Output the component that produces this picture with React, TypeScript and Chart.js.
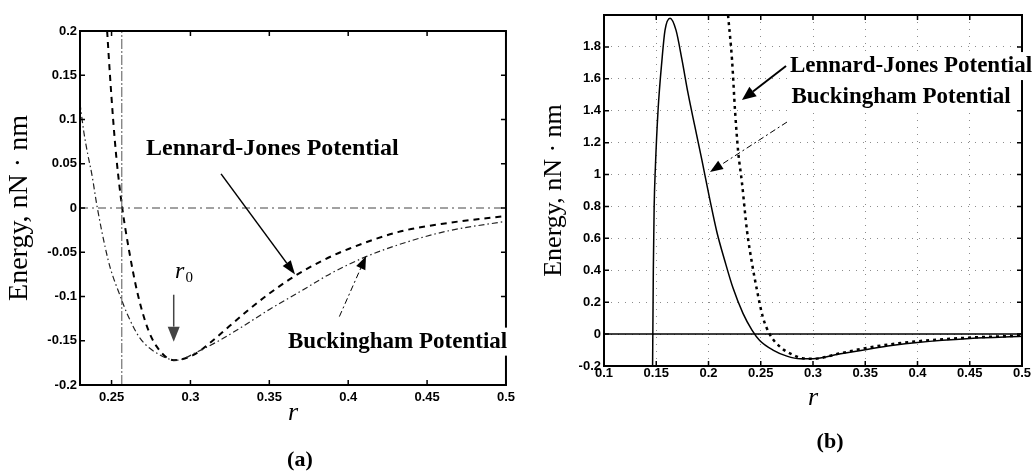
import React, { useEffect, useRef } from "react";
import { Chart, registerables } from "chart.js";
Chart.register(...registerables);

// ---------- Panel (a) ----------
const xTicksA = [0.25, 0.3, 0.35, 0.4, 0.45, 0.5];
const yTicksA = [-0.2, -0.15, -0.1, -0.05, 0, 0.05, 0.1, 0.15, 0.2];
const ljRA = [0.2472, 0.249, 0.251, 0.253, 0.255, 0.257, 0.2613, 0.2663, 0.2725, 0.2788, 0.2894, 0.302, 0.312, 0.3244, 0.3369, 0.349, 0.366, 0.383, 0.4006, 0.432, 0.463, 0.5];
const ljVA = [0.2, 0.15, 0.1, 0.058, 0.025, -0.003, -0.05, -0.095, -0.134, -0.157, -0.172, -0.166, -0.153, -0.134, -0.115, -0.098, -0.077, -0.06, -0.046, -0.027, -0.017, -0.009];
const buckRA = [0.23, 0.2325, 0.235, 0.2375, 0.241, 0.2463, 0.2494, 0.2556, 0.26, 0.268, 0.2806, 0.2913, 0.3038, 0.318, 0.333, 0.3506, 0.369, 0.39, 0.4113, 0.438, 0.463, 0.5];
const buckVA = [0.118, 0.085, 0.06, 0.038, 0.0, -0.047, -0.069, -0.1, -0.12, -0.147, -0.166, -0.172, -0.163, -0.15, -0.134, -0.114, -0.095, -0.073, -0.055, -0.038, -0.026, -0.015];
const zeroRA = [0.23, 0.5];
const zeroVA = [0, 0];
const sigmaRA = [0.2565, 0.2565];
const sigmaVA = [-0.2, 0.2];

// ---------- Panel (b) ----------
const xTicksB = [0.1, 0.15, 0.2, 0.25, 0.3, 0.35, 0.4, 0.45, 0.5];
const yTicksB = [-0.2, 0, 0.2, 0.4, 0.6, 0.8, 1, 1.2, 1.4, 1.6, 1.8];
const buckRB = [0.1465, 0.1472, 0.148, 0.1492, 0.1517, 0.1555, 0.1584, 0.1632, 0.1689, 0.1746, 0.1804, 0.187, 0.1937, 0.2014, 0.208, 0.2158, 0.2234, 0.233, 0.2416, 0.249, 0.2617, 0.275, 0.2876, 0.3, 0.325, 0.35, 0.375, 0.4, 0.45, 0.5];
const buckVB = [-0.2, 0.4, 0.8, 1.05, 1.4, 1.72, 1.905, 1.98, 1.905, 1.72, 1.51, 1.3, 1.09, 0.84, 0.64, 0.455, 0.29, 0.13, 0.025, -0.04, -0.1, -0.138, -0.155, -0.155, -0.125, -0.098, -0.072, -0.052, -0.027, -0.014];
const ljRB = [0.2187, 0.2225, 0.2254, 0.2283, 0.232, 0.2368, 0.2416, 0.2464, 0.252, 0.2585, 0.27, 0.281, 0.29, 0.3, 0.325, 0.35, 0.375, 0.4, 0.45, 0.5];
const ljVB = [2.0, 1.72, 1.4, 1.15, 0.95, 0.65, 0.445, 0.275, 0.107, 0.0, -0.088, -0.13, -0.152, -0.155, -0.122, -0.088, -0.063, -0.045, -0.022, -0.01];
const zeroRB = [0.1, 0.5];
const zeroVB = [0, 0];

const pts = (xs: number[], ys: number[]) => xs.map((x, i) => ({ x, y: ys[i] }));
const fmt = (v: number) => String(parseFloat(Number(v).toFixed(2)));

const SERIF = '"Liberation Serif", "Times New Roman", serif';
const SANS = '"Liberation Sans", Arial, sans-serif';

type Arrow = { from: [number, number]; to: [number, number]; color?: string; width?: number; dash?: number[]; head?: number; headW?: number };
type Txt = { text: string; at: [number, number]; font: string; bg?: boolean; sub?: string };

function drawArrow(ctx: CanvasRenderingContext2D, x1: number, y1: number, x2: number, y2: number, a: Arrow) {
  const color = a.color || "#000";
  const head = a.head || 12;
  const hw = a.headW || 5;
  const ang = Math.atan2(y2 - y1, x2 - x1);
  const bx = x2 - head * Math.cos(ang);
  const by = y2 - head * Math.sin(ang);
  ctx.strokeStyle = color;
  ctx.lineWidth = a.width || 1;
  ctx.setLineDash(a.dash || []);
  ctx.beginPath();
  ctx.moveTo(x1, y1);
  ctx.lineTo(bx, by);
  ctx.stroke();
  ctx.setLineDash([]);
  ctx.fillStyle = color;
  ctx.beginPath();
  ctx.moveTo(x2, y2);
  ctx.lineTo(bx + hw * Math.sin(ang), by - hw * Math.cos(ang));
  ctx.lineTo(bx - hw * Math.sin(ang), by + hw * Math.cos(ang));
  ctx.closePath();
  ctx.fill();
}

function makeDeco(arrows: Arrow[], texts: Txt[], panel: { text: string; x: number; yFromBottom: number }) {
  return {
    id: "deco",
    afterDatasetsDraw(chart: any) {
      const { ctx, chartArea: ca, scales } = chart;
      const xs = scales.x;
      const ys = scales.y;
      ctx.save();
      ctx.setLineDash([]);
      ctx.strokeStyle = "#000";
      ctx.lineWidth = 2;
      ctx.strokeRect(ca.left, ca.top, ca.right - ca.left, ca.bottom - ca.top);
      ctx.lineWidth = 1.5;
      const tl = 5;
      ctx.beginPath();
      xs.ticks.forEach((t: any) => {
        const p = xs.getPixelForValue(t.value);
        ctx.moveTo(p, ca.bottom);
        ctx.lineTo(p, ca.bottom - tl);
        ctx.moveTo(p, ca.top);
        ctx.lineTo(p, ca.top + tl);
      });
      ys.ticks.forEach((t: any) => {
        const p = ys.getPixelForValue(t.value);
        ctx.moveTo(ca.left, p);
        ctx.lineTo(ca.left + tl, p);
        ctx.moveTo(ca.right, p);
        ctx.lineTo(ca.right - tl, p);
      });
      ctx.stroke();

      arrows.forEach((a) => {
        drawArrow(
          ctx,
          xs.getPixelForValue(a.from[0]),
          ys.getPixelForValue(a.from[1]),
          xs.getPixelForValue(a.to[0]),
          ys.getPixelForValue(a.to[1]),
          a
        );
      });

      ctx.textAlign = "center";
      ctx.textBaseline = "middle";
      texts.forEach((t) => {
        const px = xs.getPixelForValue(t.at[0]);
        const py = ys.getPixelForValue(t.at[1]);
        ctx.font = t.font;
        if (t.sub) {
          ctx.fillStyle = "#000";
          ctx.textAlign = "right";
          ctx.fillText(t.text, px, py);
          ctx.font = `15px ${SERIF}`;
          ctx.textAlign = "left";
          ctx.fillText(t.sub, px + 1, py + 6);
          ctx.textAlign = "center";
          return;
        }
        const m = ctx.measureText(t.text);
        if (t.bg) {
          const w = m.width;
          ctx.fillStyle = "#fff";
          ctx.fillRect(px - w / 2 - 2, py - 14, w + 4, 28);
        }
        ctx.fillStyle = "#000";
        ctx.fillText(t.text, px, py);
      });

      ctx.font = `bold 22px ${SERIF}`;
      ctx.fillStyle = "#000";
      ctx.fillText(panel.text, xs.getPixelForValue(panel.x), chart.height - panel.yFromBottom);
      ctx.restore();
    },
  };
}

function makeConfig(opts: {
  datasets: any[];
  xMin: number; xMax: number; xTicks: number[];
  yMin: number; yMax: number; yTicks: number[];
  yWidth: number; xHeight: number; padTop: number; padRight: number;
  xTickPad: number; xTitlePad: number; yTitleSize: number; yTitlePad: number;
  grid: boolean; deco: any;
}) {
  const tickFont = { family: SANS, size: 13, weight: "bold" as const };
  const gridOpts = opts.grid
    ? { display: true, drawTicks: false, color: "rgba(0,0,0,0.45)", lineWidth: 1 }
    : { display: false, drawTicks: false };
  const borderOpts = opts.grid ? { display: false, dash: [1, 6] } : { display: false };
  return {
    type: "line" as const,
    data: { datasets: opts.datasets },
    options: {
      responsive: false,
      animation: false as const,
      events: [],
      layout: { padding: { top: opts.padTop, right: opts.padRight, left: 0, bottom: 0 } },
      plugins: { legend: { display: false }, tooltip: { enabled: false }, title: { display: false } },
      elements: { point: { radius: 0 } },
      scales: {
        x: {
          type: "linear" as const,
          min: opts.xMin,
          max: opts.xMax,
          afterBuildTicks: (s: any) => { s.ticks = opts.xTicks.map((value) => ({ value })); },
          afterFit: (s: any) => { s.height = opts.xHeight; },
          grid: gridOpts,
          border: borderOpts,
          ticks: { padding: opts.xTickPad, color: "#000", font: tickFont, autoSkip: false, maxRotation: 0, callback: (v: any) => fmt(v) },
          title: { display: true, text: "r", color: "#000", font: { family: SERIF, size: 26, style: "italic" as const }, padding: { top: 0, bottom: opts.xTitlePad } },
        },
        y: {
          type: "linear" as const,
          min: opts.yMin,
          max: opts.yMax,
          afterBuildTicks: (s: any) => { s.ticks = opts.yTicks.map((value) => ({ value })); },
          afterFit: (s: any) => { s.width = opts.yWidth; },
          grid: gridOpts,
          border: borderOpts,
          ticks: { padding: 3, color: "#000", font: tickFont, autoSkip: false, callback: (v: any) => fmt(v) },
          title: { display: true, text: "Energy, nN · nm", color: "#000", font: { family: SERIF, size: opts.yTitleSize }, padding: { top: opts.yTitlePad, bottom: 0 } },
        },
      },
    },
    plugins: [opts.deco],
  };
}

function configA() {
  return makeConfig({
    datasets: [
      { label: "zero", data: pts(zeroRA, zeroVA), borderColor: "#444", borderWidth: 1, borderDash: [8, 4, 2, 4], tension: 0 },
      { label: "sigma", data: pts(sigmaRA, sigmaVA), borderColor: "#555", borderWidth: 1, borderDash: [10, 2, 2, 2], tension: 0 },
      { label: "Buckingham Potential", data: pts(buckRA, buckVA), borderColor: "#222", borderWidth: 1.2, borderDash: [6, 3, 1.5, 3], cubicInterpolationMode: "monotone" },
      { label: "Lennard-Jones Potential", data: pts(ljRA, ljVA), borderColor: "#000", borderWidth: 2, borderDash: [6, 5], cubicInterpolationMode: "monotone" },
    ],
    xMin: 0.23, xMax: 0.5, xTicks: xTicksA,
    yMin: -0.2, yMax: 0.2, yTicks: yTicksA,
    yWidth: 80, xHeight: 88, padTop: 31, padRight: 12,
    xTickPad: 5, xTitlePad: 44, yTitleSize: 28, yTitlePad: 3,
    grid: false,
    deco: makeDeco(
      [
        { from: [0.3194, 0.0386], to: [0.3663, -0.075], width: 1.5, head: 14, headW: 5 },
        { from: [0.3944, -0.1227], to: [0.4113, -0.0545], width: 1, dash: [6, 3, 2, 3], head: 13, headW: 5 },
        { from: [0.2894, -0.098], to: [0.2894, -0.151], color: "#444", width: 1.5, head: 15, headW: 6 },
      ],
      [
        { text: "Lennard-Jones Potential", at: [0.3519, 0.067], font: `bold 24px ${SERIF}`, bg: true },
        { text: "Buckingham Potential", at: [0.4313, -0.151], font: `bold 23px ${SERIF}`, bg: true },
        { text: "r", sub: "0", at: [0.2962, -0.072], font: `italic 24px ${SERIF}` },
      ],
      { text: "(a)", x: 0.3694, yFromBottom: 13 }
    ),
  });
}

function configB() {
  return makeConfig({
    datasets: [
      { label: "zero", data: pts(zeroRB, zeroVB), borderColor: "#000", borderWidth: 1.5, tension: 0 },
      { label: "Buckingham Potential", data: pts(buckRB, buckVB), borderColor: "#000", borderWidth: 1.5, cubicInterpolationMode: "monotone" },
      { label: "Lennard-Jones Potential", data: pts(ljRB, ljVB), borderColor: "#000", borderWidth: 2.5, borderDash: [3, 4], cubicInterpolationMode: "monotone" },
    ],
    xMin: 0.1, xMax: 0.5, xTicks: xTicksB,
    yMin: -0.2, yMax: 2.0, yTicks: yTicksB,
    yWidth: 84, xHeight: 107, padTop: 15, padRight: 11,
    xTickPad: 0, xTitlePad: 59, yTitleSize: 26, yTitlePad: 19,
    grid: true,
    deco: makeDeco(
      [
        { from: [0.2742, 1.68], to: [0.232, 1.467], width: 2, head: 14, headW: 6 },
        { from: [0.2751, 1.329], to: [0.2014, 1.016], width: 1, dash: [6, 3, 2, 3], head: 13, headW: 5 },
      ],
      [
        { text: "Lennard-Jones Potential", at: [0.3938, 1.68], font: `bold 23px ${SERIF}`, bg: true },
        { text: "Buckingham Potential", at: [0.3842, 1.486], font: `bold 23px ${SERIF}`, bg: true },
      ],
      { text: "(b)", x: 0.3163, yFromBottom: 31 }
    ),
  });
}

function Panel({ left, width, make }: { left: number; width: number; make: () => any }) {
  const ref = useRef<HTMLCanvasElement>(null);
  useEffect(() => {
    if (!ref.current) return;
    const chart = new Chart(ref.current, make());
    return () => chart.destroy();
  }, [make]);
  return (
    <canvas
      ref={ref}
      width={width}
      height={473}
      style={{ position: "absolute", left, top: 0, width, height: 473, display: "block" }}
    />
  );
}

export default function App() {
  return (
    <div style={{ position: "fixed", left: 0, top: 0, width: 1033, height: 473, background: "#fff", overflow: "hidden" }}>
      <Panel left={0} width={520} make={configA} />
      <Panel left={520} width={513} make={configB} />
    </div>
  );
}
